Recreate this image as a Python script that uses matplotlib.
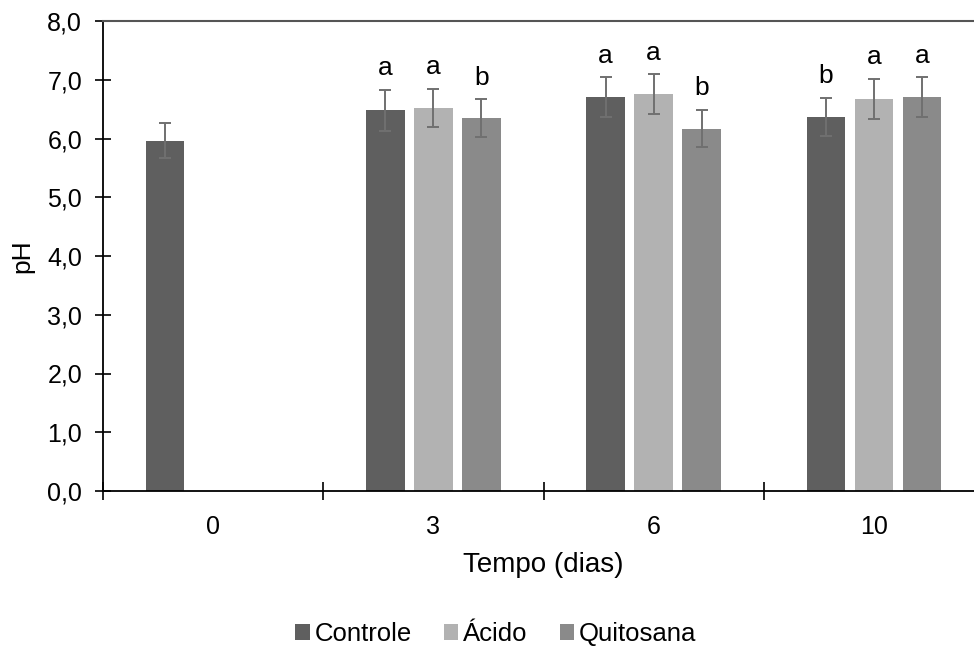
import numpy as np
import matplotlib
matplotlib.use("Agg")
import matplotlib.pyplot as plt

plt.rcParams['font.family'] = ['Liberation Sans', 'DejaVu Sans']

categories = ['0', '3', '6', '10']
series = ['Controle', 'Ácido', 'Quitosana']
controle = [5.96, 6.48, 6.70, 6.37]
acido = [np.nan, 6.52, 6.75, 6.68]
quitosana = [np.nan, 6.35, 6.17, 6.70]
err_controle = [0.30, 0.35, 0.34, 0.32]
err_acido = [np.nan, 0.33, 0.34, 0.34]
err_quitosana = [np.nan, 0.32, 0.32, 0.34]
letters_controle = ['', 'a', 'a', 'b']
letters_acido = ['', 'a', 'a', 'a']
letters_quitosana = ['', 'b', 'b', 'a']

values = [controle, acido, quitosana]
errors = [err_controle, err_acido, err_quitosana]
letters = [letters_controle, letters_acido, letters_quitosana]
colors = ['#5f5f5f', '#b2b2b2', '#8a8a8a']

fig = plt.figure(figsize=(9.74, 6.46), dpi=100)
ax = fig.add_axes([103/974, 1-491/646, (984-103)/974, (491-21)/646])

x = np.arange(len(categories))
offset = 0.218
width = 0.175
handles = []
for i, (vals, errs, lets, col) in enumerate(zip(values, errors, letters, colors)):
    pos = x + (i - 1) * offset
    b = ax.bar(pos, vals, width=width, color=col, label=series[i], zorder=2)
    handles.append(b)
    ax.errorbar(pos, vals, yerr=errs, fmt='none', ecolor='#707070',
                elinewidth=1.4, capsize=4, capthick=1.4, zorder=3)
    for p, v, e, l in zip(pos, vals, errs, lets):
        if l and not np.isnan(v):
            ax.annotate(l, (p, v + e), xytext=(0, 10.5), textcoords='offset points',
                        ha='center', va='baseline', fontsize=19, color='black')

ax.set_xlim(-0.5, 3.5)
ax.set_ylim(0, 8)
yt = np.arange(0, 8.01, 1.0)
ax.set_yticks(yt)
ax.set_yticklabels([f'{v:.1f}'.replace('.', ',') for v in yt], fontsize=18)
ax.tick_params(axis='y', direction='inout', length=12, width=1.2, pad=9, color='black')

ax.set_xticks([-0.5, 0.5, 1.5, 2.5])
ax.set_xticklabels([])
ax.set_xticks(x, minor=True)
ax.set_xticklabels(categories, minor=True, fontsize=18)
ax.tick_params(axis='x', which='major', direction='inout', length=13, width=1.2, color='black')
ax.tick_params(axis='x', which='minor', length=0, pad=17)

ax.spines['right'].set_visible(False)
ax.spines['top'].set_color('#555555')
ax.spines['top'].set_linewidth(1.5)
ax.spines['left'].set_linewidth(1.3)
ax.spines['bottom'].set_linewidth(1.3)

ax.set_ylabel('pH', fontsize=19, labelpad=9)
ax.set_xlabel('Tempo (dias)', fontsize=20, labelpad=10)

fig.legend(handles=handles, labels=series, loc='center', bbox_to_anchor=(496/974, 1-634/646),
           ncol=3, frameon=False, fontsize=18.5, handlelength=0.55, handleheight=0.55,
           handletextpad=0.2, columnspacing=1.25, borderpad=0, borderaxespad=0)

fig.savefig('out.png', dpi=100)
